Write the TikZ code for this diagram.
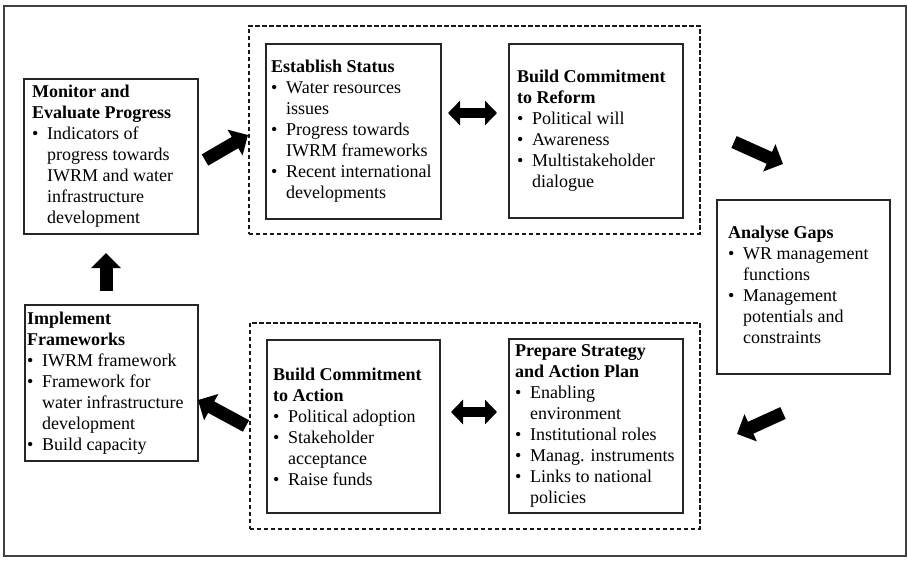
\documentclass[tikz,border=0pt]{standalone}
\usepackage{fontspec}
\setmainfont{Liberation Serif}
\usetikzlibrary{arrows.meta}
% bullet item and continuation indent for the stage descriptions
\newcommand\itm{\makebox[15pt][l]{\textbullet}}
\newcommand\cnt{\makebox[15pt]{}}
\begin{document}
\begin{tikzpicture}[x=1pt,y=-1pt,
  stage/.style={draw=black!85, line width=1.7pt, anchor=north west, inner sep=0pt},
  txt/.style={anchor=west, align=left, inner sep=0pt, font=\fontsize{18}{21}\selectfont},
  group/.style={draw=black!90, line width=1.5pt, dash pattern=on 4.5pt off 2.5pt, anchor=north west, inner sep=0pt},
  flow/.style={line width=13pt, -{Triangle[length=15pt,width=29pt]}},
  swap/.style={line width=10pt, {Triangle[length=12pt,width=24pt]}-{Triangle[length=12pt,width=24pt]}}]

\useasboundingbox (0,0) rectangle (907,560);
\node[draw=black!75, line width=1.6pt, anchor=north west, inner sep=0pt,
      minimum width=902pt, minimum height=550pt] (frame) at (3,5) {};

% dashed groups
\node[group, minimum width=451pt, minimum height=208pt] (topgrp) at (248,25) {};
\node[group, minimum width=450pt, minimum height=206pt] (botgrp) at (249,322) {};

% stages
\node[stage, minimum width=174pt, minimum height=155pt] (monitor) at (23,78) {};
\node[txt] (monitortxt) at ([xshift=9pt]monitor.west)
  {\textbf{Monitor and}\\ \textbf{Evaluate Progress}\\ \itm Indicators of\\ \cnt progress towards\\ \cnt IWRM and water\\ \cnt infrastructure\\ \cnt development};

\node[stage, minimum width=175pt, minimum height=175pt] (status) at (265,43) {};
\node[txt] (statustxt) at ([xshift=6pt]status.west)
  {\textbf{Establish Status}\\ \itm Water resources\\ \cnt issues\\ \itm Progress towards\\ \cnt IWRM frameworks\\ \itm Recent international\\ \cnt developments};

\node[stage, minimum width=174pt, minimum height=174pt] (reform) at (508,43) {};
\node[txt] (reformtxt) at ([xshift=9pt]reform.west)
  {\textbf{Build Commitment}\\ \textbf{to Reform}\\ \itm Political will\\ \itm Awareness\\ \itm Multistakeholder\\ \cnt dialogue};

\node[stage, minimum width=173pt, minimum height=174pt] (gaps) at (716,199) {};
\node[txt] (gapstxt) at ([xshift=12pt,yshift=2pt]gaps.west)
  {\textbf{Analyse Gaps}\\ \itm WR management\\ \cnt functions\\ \itm Management\\ \cnt potentials and\\ \cnt constraints};

\node[stage, minimum width=173pt, minimum height=156pt] (implement) at (24,304) {};
\node[txt] (implementtxt) at ([xshift=3pt]implement.west)
  {\textbf{Implement}\\ \textbf{Frameworks}\\ \itm IWRM framework\\ \itm Framework for\\ \cnt water infrastructure\\ \cnt development\\ \itm Build capacity};

\node[stage, minimum width=173pt, minimum height=173pt] (action) at (266,339) {};
\node[txt] (actiontxt) at ([xshift=7pt]action.west)
  {\textbf{Build Commitment}\\ \textbf{to Action}\\ \itm Political adoption\\ \itm Stakeholder\\ \cnt acceptance\\ \itm Raise funds};

\node[stage, minimum width=174pt, minimum height=174pt] (strategy) at (508,338) {};
\node[txt] (strategytxt) at ([xshift=7pt]strategy.west)
  {\textbf{Prepare Strategy}\\ \textbf{and Action Plan}\\ \itm Enabling\\ \cnt environment\\ \itm Institutional roles\\ \itm Manag. instruments\\ \itm Links to national\\ \cnt policies};

% block arrows of the cycle
\coordinate (m2s-a) at (205,160); \coordinate (m2s-b) at (248,135);
\coordinate (r2g-a) at (734,142); \coordinate (r2g-b) at (783,164);
\coordinate (g2s-a) at (783,413); \coordinate (g2s-b) at (737,434);
\coordinate (a2i-a) at (246,426); \coordinate (a2i-b) at (198,400);
\coordinate (i2m-a) at (106,291); \coordinate (i2m-b) at (106,253);
\coordinate (sr-a) at (448,113);  \coordinate (sr-b) at (497,113);
\coordinate (as-a) at (451,412);  \coordinate (as-b) at (497,412);

\draw[flow] (m2s-a) -- (m2s-b);
\draw[flow] (r2g-a) -- (r2g-b);
\draw[flow] (g2s-a) -- (g2s-b);
\draw[flow] (a2i-a) -- (a2i-b);
\draw[flow] (i2m-a) -- (i2m-b);
\draw[swap] (sr-a) -- (sr-b);
\draw[swap] (as-a) -- (as-b);
\end{tikzpicture}
\end{document}
